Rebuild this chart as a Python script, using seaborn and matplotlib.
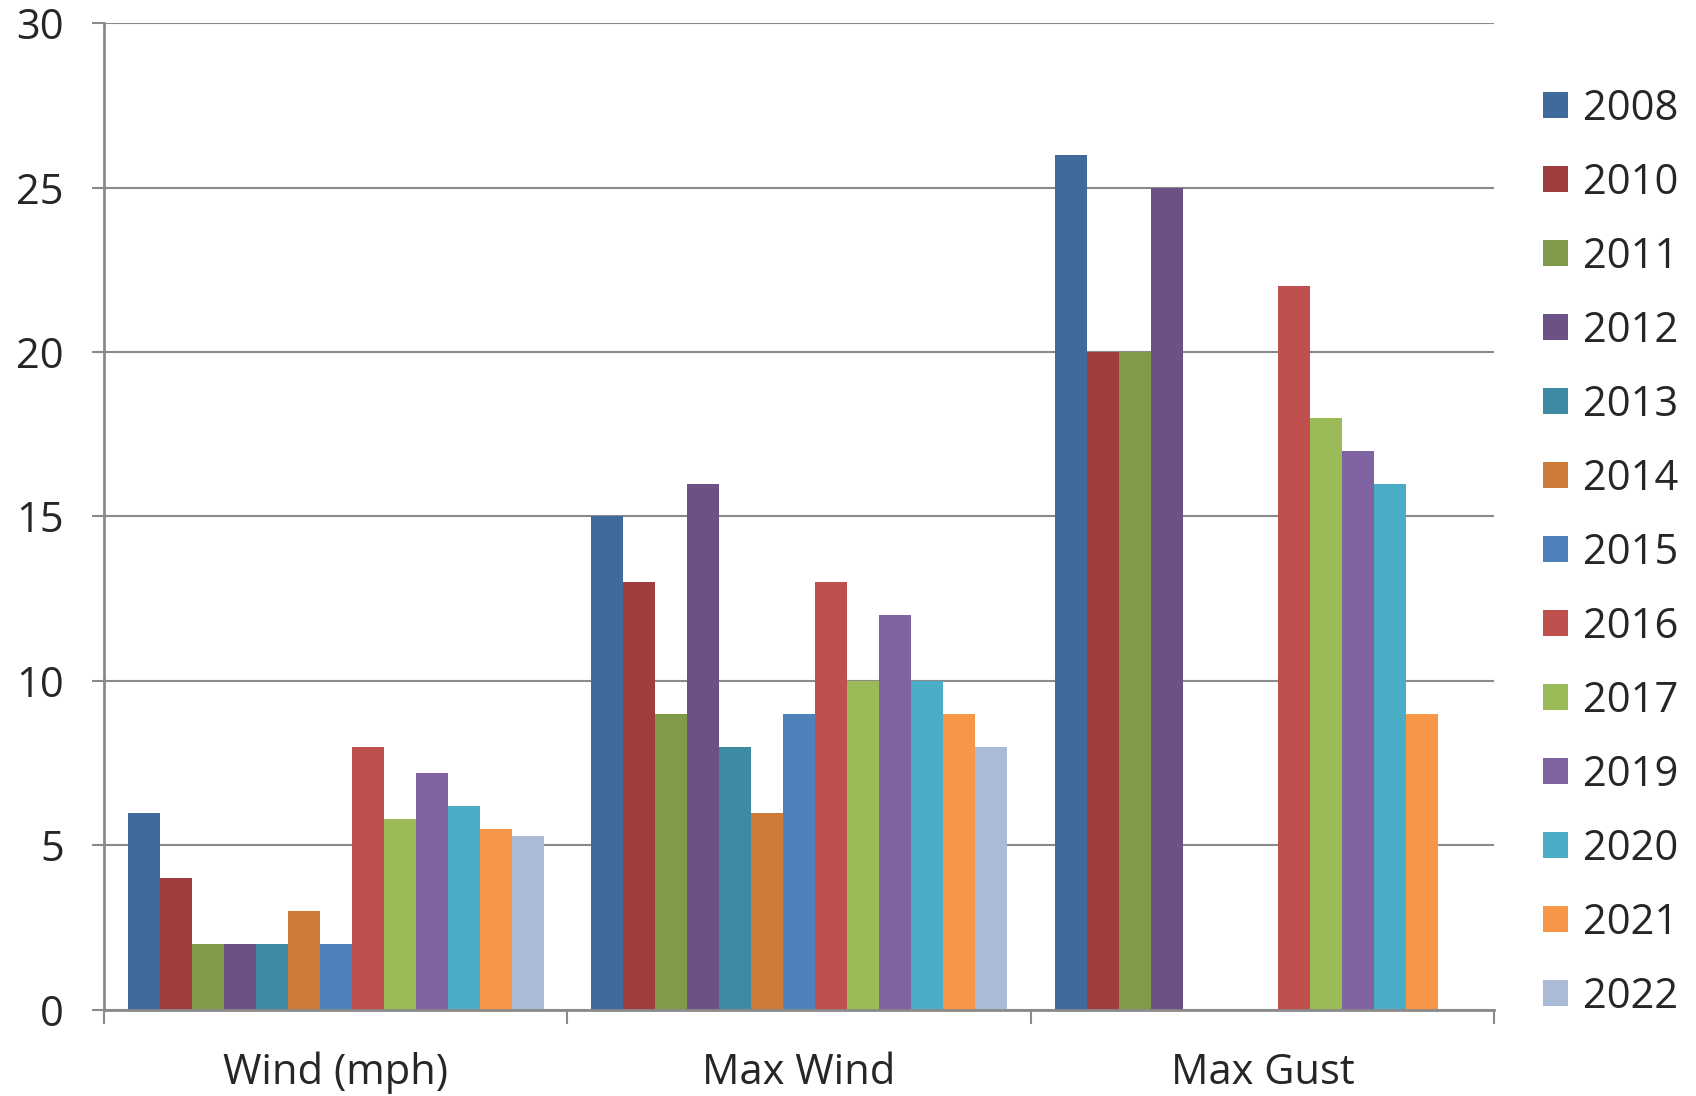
import matplotlib
matplotlib.use("Agg")
import matplotlib.pyplot as plt
import seaborn as sns
import pandas as pd
import numpy as np

categories = ["Wind (mph)", "Max Wind", "Max Gust"]
years = ["2008", "2010", "2011", "2012", "2013", "2014", "2015",
         "2016", "2017", "2019", "2020", "2021", "2022"]
wind_mph = [6, 4, 2, 2, 2, 3, 2, 8, 5.8, 7.2, 6.2, 5.5, 5.3]
max_wind = [15, 13, 9, 16, 8, 6, 9, 13, 10, 12, 10, 9, 8]
max_gust = [26, 20, 20, 25, np.nan, np.nan, np.nan, 22, 18, 17, 16, 9, np.nan]
colors = ["#416A9C", "#9E3F3D", "#7F9A48", "#6A5186", "#3C8BA2", "#CC7B38",
          "#4F81BD", "#C0504D", "#9BBB59", "#8064A2", "#4BACC6", "#F79646",
          "#AABAD7"]

rows = []
for cat, vals in zip(categories, [wind_mph, max_wind, max_gust]):
    for y, v in zip(years, vals):
        rows.append({"category": cat, "year": y, "value": v})
df = pd.DataFrame(rows)

sns.set_style("white")
plt.rcParams["font.family"] = ["Open Sans", "DejaVu Sans"]

fig = plt.figure(figsize=(16.96, 10.96), dpi=100)
ax = fig.add_axes([0.0613, 0.0785, 0.8197, 0.9005])

sns.barplot(data=df.dropna(), x="category", y="value", hue="year",
            order=categories, hue_order=years, palette=colors,
            width=0.897, errorbar=None, ax=ax, linewidth=0, saturation=1)

ax.set_xlim(-0.5, 2.5)
ax.set_ylim(0, 30)
ax.set_yticks(range(0, 31, 5))
ax.yaxis.grid(True, color="#8a8a8a", linewidth=1.5)
ax.set_axisbelow(True)
for s in ["top", "right"]:
    ax.spines[s].set_visible(False)
for s in ["left", "bottom"]:
    ax.spines[s].set_color("#8a8a8a")
    ax.spines[s].set_linewidth(2)

ax.set_xticks([0, 1, 2])
ax.set_xticklabels(categories)
ax.tick_params(axis="x", which="major", length=0, labelsize=30, pad=30, bottom=True)
ax.set_xticks([-0.5, 0.5, 1.5, 2.5], minor=True)
ax.tick_params(axis="x", which="minor", length=10, width=1.5, color="#8a8a8a",
               direction="out", bottom=True)
ax.tick_params(axis="y", length=9, width=1.5, color="#8a8a8a", labelsize=30, pad=20, left=True)
ax.set_xlabel("")
ax.set_ylabel("")

handles, labels = ax.get_legend_handles_labels()
ax.legend(handles, labels, loc="upper left", bbox_to_anchor=(0.910, 0.920),
          bbox_transform=fig.transFigure, frameon=False, fontsize=30,
          handlelength=0.6, handleheight=0.6, handletextpad=0.35,
          labelspacing=0.768, borderaxespad=0, borderpad=0)

fig.savefig("out.png", dpi=100)
